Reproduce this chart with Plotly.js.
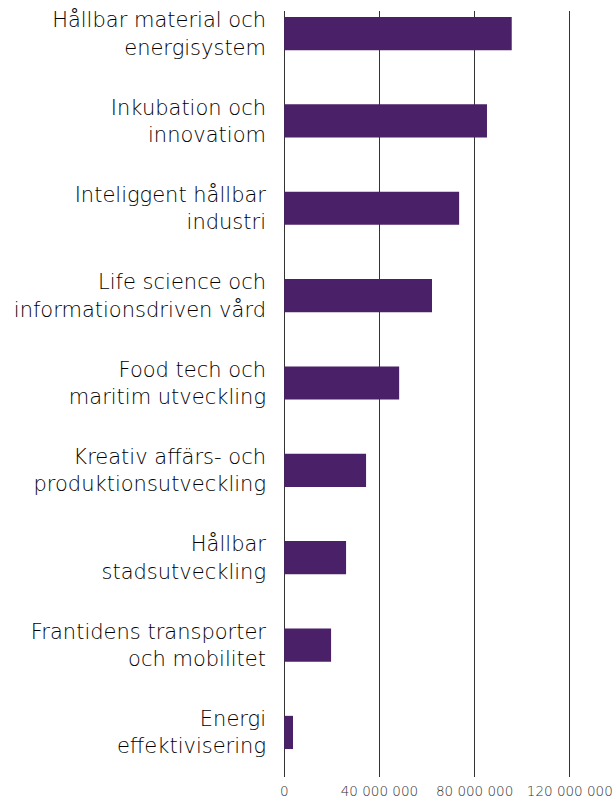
<!DOCTYPE html>
<html>
<head>
<meta charset="utf-8">
<script src="https://cdn.plot.ly/plotly-3.0.1.min.js"></script>
<style>html,body{margin:0;padding:0;background:#fff;}#chart{width:615px;height:803px;}</style>
</head>
<body>
<div id="chart"></div>
<script>
const categories = [
  "Hållbar material och<br>energisystem",
  "Inkubation och<br>innovatiom",
  "Inteliggent hållbar<br>industri",
  "Life science och<br>informationsdriven vård",
  "Food tech och<br>maritim utveckling",
  "Kreativ affärs- och<br>produktionsutveckling",
  "Hållbar<br>stadsutveckling",
  "Frantidens transporter<br>och mobilitet",
  "Energi<br>effektivisering"
];
const values = [95600000, 85200000, 73500000, 62100000, 48300000, 34400000, 26000000, 19700000, 3700000];
const xTickVals = [0, 40000000, 80000000, 120000000];
const xTickText = ["0", "40 000 000", "80 000 000", "120 000 000"];

const trace = {
  type: 'bar',
  orientation: 'h',
  x: values,
  y: categories,
  marker: {color: '#4a2068'},
  hoverinfo: 'none'
};

const layout = {
  width: 615,
  height: 803,
  margin: {l: 283, r: 44, t: 11, b: 26},
  paper_bgcolor: '#fff',
  plot_bgcolor: '#fff',
  showlegend: false,
  bargap: 0.62,
  font: {family: '"DejaVu Sans", sans-serif', color: '#000'},
  xaxis: {
    range: [-500000, 120500000],
    tickvals: xTickVals,
    ticktext: xTickText,
    showgrid: true,
    gridcolor: '#333',
    gridwidth: 1.2,
    zeroline: false,
    showline: false,
    ticks: '',
    ticklabelstandoff: 4,
    tickfont: {size: 13.5, color: '#333', weight: 300},
    fixedrange: true
  },
  yaxis: {
    type: 'category',
    range: [8.51, -0.258],
    showgrid: false,
    zeroline: false,
    showline: false,
    ticks: '',
    ticklabelstandoff: 16,
    tickfont: {size: 21, color: '#000', weight: 300},
    fixedrange: true
  }
};

Plotly.newPlot('chart', [trace], layout, {displayModeBar: false, staticPlot: true});
</script>
</body>
</html>
